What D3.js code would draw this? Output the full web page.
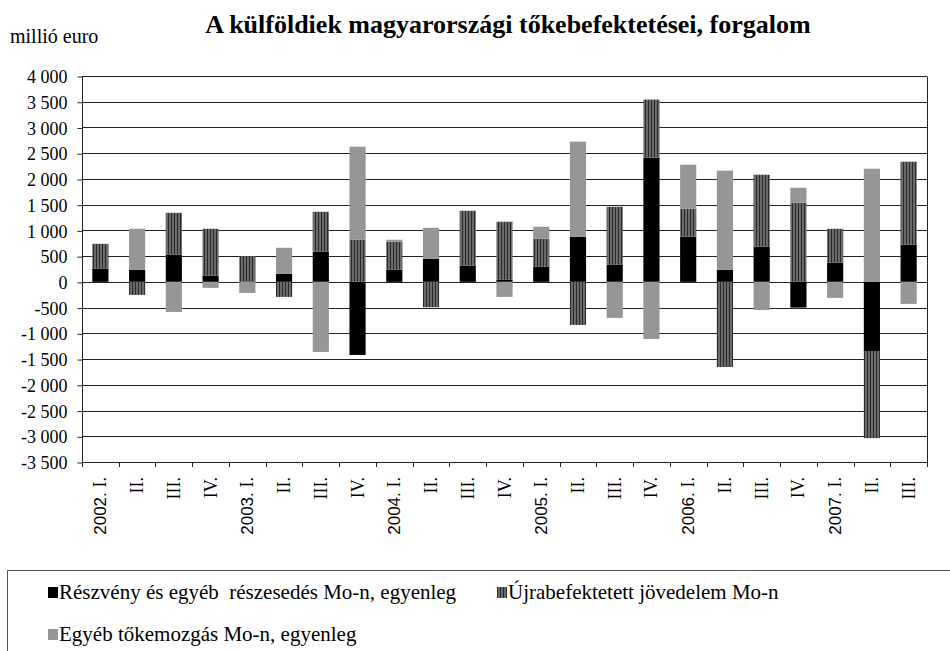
<!DOCTYPE html>
<html>
<head>
<meta charset="utf-8">
<script src="https://cdn.jsdelivr.net/npm/d3@7"></script>
<style>
  body { margin: 0; background: #fff; }
</style>
</head>
<body>
<svg id="chart" width="950" height="651"></svg>
<script>
// quarters
const years = ["2002.", "", "", "", "2003.", "", "", "", "2004.", "", "", "", "2005.", "", "", "", "2006.", "", "", "", "2007.", "", ""];
const quarters = ["I.", "II.", "III.", "IV.", "I.", "II.", "III.", "IV.", "I.", "II.", "III.", "IV.", "I.", "II.", "III.", "IV.", "I.", "II.", "III.", "IV.", "I.", "II.", "III."];

// millió euro
const reszveny = [253, 234, 525, 117, 0, 156, 584, -1420, 234, 448, 311, 39, 292, 876, 331, 2413, 876, 234, 681, -500, 370, -1343, 720];
const ujra = [486, -253, 817, 915, 500, -292, 778, 817, 545, -493, 1070, 1129, 545, -837, 1129, 1129, 545, -1654, 1401, 1537, 662, -1693, 1615];
const egyeb = [0, 798, -584, -117, -214, 506, -1362, 1810, 39, 603, 0, -292, 234, 1849, -700, -1109, 856, 1927, -545, 292, -311, 2199, -428];

const yTicks = [4000, 3500, 3000, 2500, 2000, 1500, 1000, 500, 0, -500, -1000, -1500, -2000, -2500, -3000, -3500];

const seriesNames = ["Részvény és egyéb  részesedés Mo-n, egyenleg", "Újrabefektetett jövedelem Mo-n", "Egyéb tőkemozgás Mo-n, egyenleg"];
const keys = ["reszveny", "ujra", "egyeb"];

const table = quarters.map((q, i) => ({
  id: i, reszveny: reszveny[i], ujra: ujra[i], egyeb: egyeb[i]
}));

const SERIF = "'Liberation Serif', 'Times New Roman', serif";
const SANS = "'Liberation Sans', Arial, sans-serif";

const svg = d3.select("#chart");

// hatch pattern for the second series
const defs = svg.append("defs");
const pat = defs.append("pattern")
  .attr("id", "stripes")
  .attr("patternUnits", "userSpaceOnUse")
  .attr("width", 3)
  .attr("height", 10);
pat.append("rect").attr("width", 3).attr("height", 10).attr("fill", "#6a6a6a");
pat.append("rect").attr("width", 1).attr("height", 10).attr("fill", "#2a2a2a");

const fills = { reszveny: "#000", ujra: "url(#stripes)", egyeb: "#969696" };

const mLeft = 82, mRight = 927, mTop = 76, mBottom = 462;

const x = d3.scaleBand()
  .domain(table.map(d => d.id))
  .range([mLeft, mRight])
  .paddingInner(0.56)
  .paddingOuter(0.28);

const y = d3.scaleLinear()
  .domain([-3500, 4000])
  .range([mBottom, mTop]);

// gridlines
svg.append("g")
  .selectAll("line")
  .data(yTicks)
  .enter()
  .append("line")
    .attr("x1", mLeft)
    .attr("x2", mRight)
    .attr("y1", d => Math.round(y(d)) + 0.5)
    .attr("y2", d => Math.round(y(d)) + 0.5)
    .attr("stroke", "#222")
    .attr("stroke-width", 1);

// right border
svg.append("line")
  .attr("x1", mRight + 0.5).attr("x2", mRight + 0.5)
  .attr("y1", Math.round(y(4000)) + 0.5).attr("y2", Math.round(y(-3500)) + 0.5)
  .attr("stroke", "#222");

// bars
const stacked = d3.stack()
  .keys(keys)
  .offset(d3.stackOffsetDiverging)(table);

svg.append("g")
  .selectAll("g")
  .data(stacked)
  .enter()
  .append("g")
    .attr("fill", d => fills[d.key])
  .selectAll("rect")
  .data(d => d)
  .enter()
  .append("rect")
    .attr("x", d => x(d.data.id))
    .attr("width", x.bandwidth())
    .attr("y", d => y(Math.max(d[0], d[1])))
    .attr("height", d => Math.abs(y(d[0]) - y(d[1])));

// y axis
const yAxis = d3.axisLeft(y)
  .tickValues(yTicks)
  .tickSize(5)
  .tickFormat(d => d3.format(",")(d).replace(/,/g, " ").replace("−", "-"));

const gy = svg.append("g")
  .attr("transform", `translate(${mLeft + 0.5},0.5)`)
  .call(yAxis);
gy.select(".domain").attr("stroke", "#222").attr("d", `M0,${y(4000)}V${y(-3500)}`);
gy.selectAll(".tick line").attr("stroke", "#222");
gy.selectAll(".tick text")
  .attr("x", -15)
  .attr("dy", "0.34em")
  .style("font-family", SERIF)
  .style("font-size", "18px")
  .attr("fill", "#000");

// x axis ticks at category boundaries
const step = x.step();
const x0 = x(0) - (step - x.bandwidth()) / 2;
svg.append("g")
  .selectAll("line")
  .data(d3.range(quarters.length + 1))
  .enter()
  .append("line")
    .attr("x1", i => Math.round(x0 + i * step) + 0.5)
    .attr("x2", i => Math.round(x0 + i * step) + 0.5)
    .attr("y1", mBottom)
    .attr("y2", mBottom + 5)
    .attr("stroke", "#222");

// x labels
const xl = svg.append("g")
  .selectAll("text")
  .data(table)
  .enter()
  .append("text")
    .attr("transform", d => `translate(${x(d.id) + x.bandwidth() / 2 + 6},${mBottom + 15}) rotate(-90)`)
    .attr("text-anchor", "end")
    .style("font-family", SERIF)
    .style("font-size", "18px")
    .attr("fill", "#000");
xl.append("tspan")
  .style("font-family", SANS)
  .style("font-size", "17px")
  .text(d => years[d.id] ? years[d.id] + " " : "");
xl.append("tspan")
  .text(d => quarters[d.id]);

// title
svg.append("text")
  .attr("x", 508)
  .attr("y", 33)
  .attr("text-anchor", "middle")
  .style("font-family", SERIF)
  .style("font-size", "26px")
  .style("font-weight", "bold")
  .text("A külföldiek magyarországi tőkebefektetései, forgalom");

svg.append("text")
  .attr("x", 10)
  .attr("y", 43)
  .style("font-family", SERIF)
  .style("font-size", "20px")
  .text("millió euro");

// legend
svg.append("rect")
  .attr("x", 7.5)
  .attr("y", 570.5)
  .attr("width", 960)
  .attr("height", 100)
  .attr("fill", "none")
  .attr("stroke", "#555");

const legendPos = [[48, 599], [497, 599], [48, 641]];
const lg = svg.append("g")
  .selectAll("g")
  .data(keys)
  .enter()
  .append("g")
    .attr("transform", (d, i) => `translate(${legendPos[i][0]},${legendPos[i][1]})`);
lg.append("rect")
  .attr("x", 0)
  .attr("y", -12)
  .attr("width", 10)
  .attr("height", 11)
  .attr("fill", d => fills[d]);
lg.append("text")
  .attr("x", 11)
  .attr("y", 0)
  .style("font-family", SERIF)
  .style("font-size", "21px")
  .style("white-space", "pre")
  .text((d, i) => seriesNames[i]);
</script>
</body>
</html>
